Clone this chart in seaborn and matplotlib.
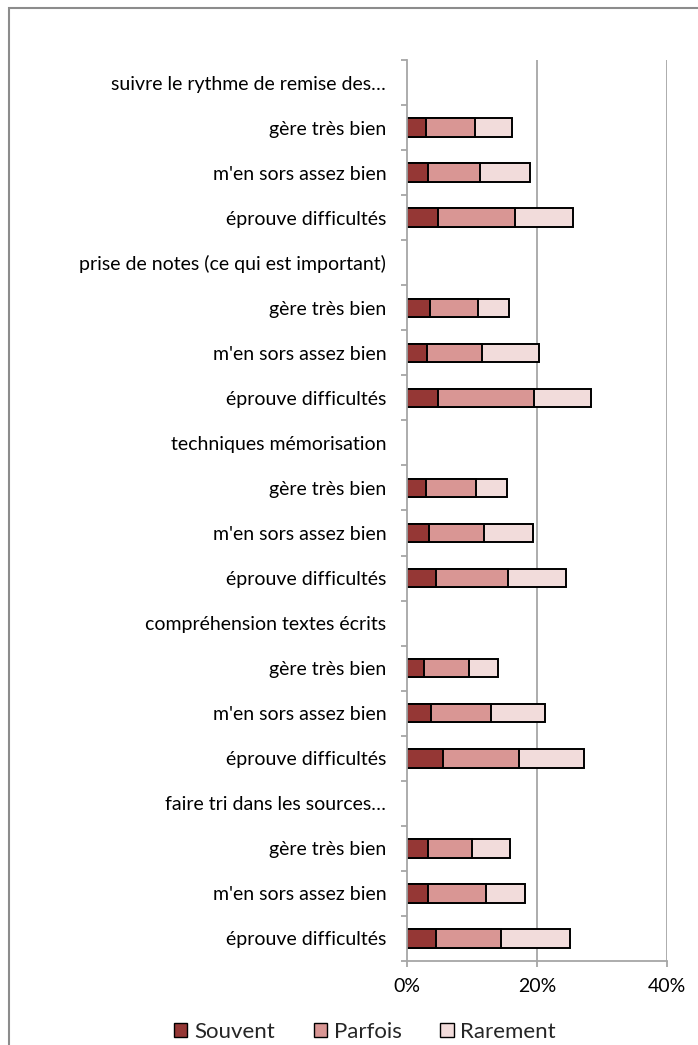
import matplotlib
matplotlib.use("Agg")
import matplotlib.pyplot as plt
from matplotlib.patches import Patch, Rectangle
from matplotlib.ticker import FixedLocator, FuncFormatter
import pandas as pd
import seaborn as sns

# Survey topics and self-assessed levels
groups = [
    "suivre le rythme de remise des…",
    "prise de notes (ce qui est important)",
    "techniques mémorisation",
    "compréhension textes écrits",
    "faire tri dans les sources…",
]
levels = ["gère très bien", "m'en sors assez bien", "éprouve difficultés"]

# Percentages per (topic, level), topic order as above, levels in order
souvent = [2.9, 3.3, 4.8, 3.6, 3.1, 4.8, 3.0, 3.4, 4.4, 2.6, 3.7, 5.5, 3.3, 3.2, 4.4]
parfois = [7.5, 7.9, 11.9, 7.3, 8.5, 14.7, 7.6, 8.4, 11.1, 7.0, 9.2, 11.7, 6.7, 9.0, 10.1]
rarement = [5.7, 7.7, 8.8, 4.8, 8.7, 8.8, 4.8, 7.6, 9.0, 4.4, 8.3, 10.1, 5.8, 5.9, 10.6]

series = ["Souvent", "Parfois", "Rarement"]
colors = ["#953735", "#D99694", "#F2DCDB"]
x_ticks = [0, 20, 40]

sns.set_theme(style="white")
plt.rcParams["font.family"] = ["Lato", "DejaVu Sans"]

# Build row list: a header row per topic followed by its three levels
row_ids, row_labels = [], []
rec = []
k = 0
for gi, g in enumerate(groups):
    row_ids.append(f"h{gi}")
    row_labels.append(g)
    for li, lv in enumerate(levels):
        rid = f"r{gi}{li}"
        row_ids.append(rid)
        row_labels.append(lv)
        rec.append({"row": rid, "Souvent": souvent[k], "Parfois": parfois[k],
                    "Rarement": rarement[k]})
        k += 1
df = pd.DataFrame(rec)
df["c1"] = df["Souvent"]
df["c2"] = df["Souvent"] + df["Parfois"]
df["c3"] = df["c2"] + df["Rarement"]

W, H = 698, 1045
fig = plt.figure(figsize=(W / 100, H / 100), dpi=100)
ax = fig.add_axes([407 / W, 84 / H, 259.7 / W, 901 / H])

for ax_x in [20, 40]:
    ax.axvline(ax_x, color="#A6A6A6", lw=1.3, zorder=0)

# Stacked bars: draw cumulative totals from the outermost segment inward
for col, c in zip(["c3", "c2", "c1"], colors[::-1]):
    sns.barplot(data=df, x=col, y="row", order=row_ids, orient="h",
                color=c, saturation=1, edgecolor="black", linewidth=1.4,
                width=0.41, errorbar=None, ax=ax, zorder=2)

ax.set_xlim(0, 40)
ax.set_ylim(len(row_ids) - 0.5, -0.5)
ax.xaxis.set_major_locator(FixedLocator(x_ticks))
ax.xaxis.set_major_formatter(FuncFormatter(lambda v, p: f"{v:.0f}%"))
ax.set_yticks(range(len(row_ids)))
ax.set_yticklabels(row_labels)
ax.yaxis.set_minor_locator(FixedLocator([i - 0.5 for i in range(len(row_ids) + 1)]))
ax.tick_params(axis="y", which="major", length=0, pad=15, labelsize=14,
               labelcolor="black")
ax.tick_params(axis="y", which="minor", length=4, width=1.3, color="#A6A6A6",
               direction="out", left=True)
ax.tick_params(axis="x", which="major", length=4, width=1.3, color="#A6A6A6",
               direction="out", bottom=True, pad=8, labelsize=14,
               labelcolor="black")
ax.set_xlabel("")
ax.set_ylabel("")
for s in ["top", "right"]:
    ax.spines[s].set_visible(False)
for s in ["left", "bottom"]:
    ax.spines[s].set_color("#A6A6A6")
    ax.spines[s].set_linewidth(1.3)
    ax.spines[s].set_zorder(3)

handles = [Patch(facecolor=c, edgecolor="black", linewidth=1.0, label=s)
           for s, c in zip(series, colors)]
fig.legend(handles=handles, loc="center", ncol=3,
           bbox_to_anchor=(365 / W, 1 - 1031.5 / H), frameon=False,
           fontsize=16, handlelength=0.6, handleheight=0.6,
           handletextpad=0.3, columnspacing=1.75)

# Chart-area border
fig.patches.append(Rectangle((9 / W, -0.1), 1.2, (H - 8.5) / H + 0.1,
                             transform=fig.transFigure, fill=False,
                             edgecolor="#8C8C8C", linewidth=1.5))

fig.savefig("out.png", dpi=100, facecolor="white")
